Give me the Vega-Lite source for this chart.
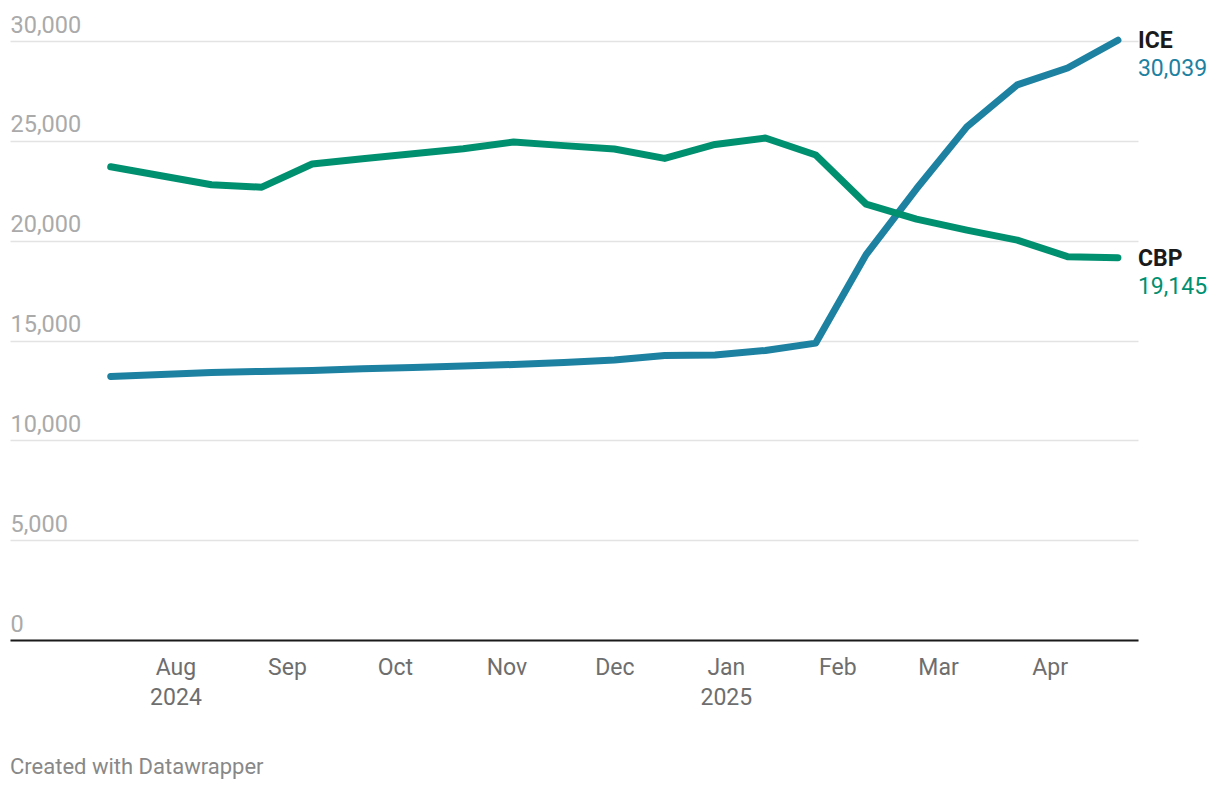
{
  "$schema": "https://vega.github.io/schema/vega-lite/v6.json",
  "autosize": "none",
  "width": 1128,
  "height": 599,
  "padding": {"left": 10, "top": 41, "right": 82, "bottom": 148},
  "config": {
    "font": "Roboto",
    "view": {"stroke": null}
  },
  "title": {
    "text": "Created with Datawrapper",
    "orient": "bottom",
    "anchor": "start",
    "frame": "group",
    "font": "Roboto",
    "fontSize": 22,
    "fontWeight": "normal",
    "color": "#888888",
    "offset": 48
  },
  "datasets": {
    "series": [
      {"date": "2024-07-14", "series": "ICE", "value": 13200},
      {"date": "2024-07-28", "series": "ICE", "value": 13300},
      {"date": "2024-08-11", "series": "ICE", "value": 13400},
      {"date": "2024-08-25", "series": "ICE", "value": 13450},
      {"date": "2024-09-08", "series": "ICE", "value": 13500},
      {"date": "2024-09-22", "series": "ICE", "value": 13580},
      {"date": "2024-10-06", "series": "ICE", "value": 13650},
      {"date": "2024-10-20", "series": "ICE", "value": 13720},
      {"date": "2024-11-03", "series": "ICE", "value": 13800},
      {"date": "2024-11-17", "series": "ICE", "value": 13900},
      {"date": "2024-12-01", "series": "ICE", "value": 14020},
      {"date": "2024-12-15", "series": "ICE", "value": 14250},
      {"date": "2024-12-29", "series": "ICE", "value": 14270},
      {"date": "2025-01-12", "series": "ICE", "value": 14500},
      {"date": "2025-01-26", "series": "ICE", "value": 14870},
      {"date": "2025-02-09", "series": "ICE", "value": 19300},
      {"date": "2025-02-23", "series": "ICE", "value": 22600},
      {"date": "2025-03-09", "series": "ICE", "value": 25700},
      {"date": "2025-03-23", "series": "ICE", "value": 27800},
      {"date": "2025-04-06", "series": "ICE", "value": 28650},
      {"date": "2025-04-20", "series": "ICE", "value": 30039},
      {"date": "2024-07-14", "series": "CBP", "value": 23700},
      {"date": "2024-07-28", "series": "CBP", "value": 23250},
      {"date": "2024-08-11", "series": "CBP", "value": 22800},
      {"date": "2024-08-25", "series": "CBP", "value": 22680},
      {"date": "2024-09-08", "series": "CBP", "value": 23840},
      {"date": "2024-09-22", "series": "CBP", "value": 24100},
      {"date": "2024-10-06", "series": "CBP", "value": 24350},
      {"date": "2024-10-20", "series": "CBP", "value": 24600},
      {"date": "2024-11-03", "series": "CBP", "value": 24940},
      {"date": "2024-11-17", "series": "CBP", "value": 24760},
      {"date": "2024-12-01", "series": "CBP", "value": 24590},
      {"date": "2024-12-15", "series": "CBP", "value": 24120},
      {"date": "2024-12-29", "series": "CBP", "value": 24820},
      {"date": "2025-01-12", "series": "CBP", "value": 25140},
      {"date": "2025-01-26", "series": "CBP", "value": 24290},
      {"date": "2025-02-09", "series": "CBP", "value": 21830},
      {"date": "2025-02-23", "series": "CBP", "value": 21080},
      {"date": "2025-03-09", "series": "CBP", "value": 20530},
      {"date": "2025-03-23", "series": "CBP", "value": 20030},
      {"date": "2025-04-06", "series": "CBP", "value": 19200},
      {"date": "2025-04-20", "series": "CBP", "value": 19145}
    ],
    "labels": [
      {"date": "2025-04-20", "series": "ICE", "value": 30039},
      {"date": "2025-04-20", "series": "CBP", "value": 19145}
    ]
  },
  "layer": [
    {
      "data": {"name": "series"},
      "mark": {"type": "line", "strokeWidth": 7, "strokeCap": "round", "strokeJoin": "round"},
      "encoding": {
        "x": {
          "field": "date",
          "type": "temporal",
          "scale": {
            "type": "utc",
            "domain": [
              {"year": 2024, "month": 6, "date": 16, "utc": true},
              {"year": 2025, "month": 4, "date": 25, "hours": 14, "utc": true}
            ]
          },
          "axis": {
            "title": null,
            "grid": false,
            "ticks": false,
            "domainColor": "#1a1a1a",
            "domainWidth": 2,
            "labelFont": "Roboto",
            "labelFontSize": 23,
            "labelColor": "#6e6e6e",
            "labelPadding": 16,
            "labelBaseline": "top",
            "labelLineHeight": 30,
            "labelFlush": false,
            "labelOverlap": false,
            "values": [
              {"year": 2024, "month": 8, "date": 1, "utc": true},
              {"year": 2024, "month": 9, "date": 1, "utc": true},
              {"year": 2024, "month": 10, "date": 1, "utc": true},
              {"year": 2024, "month": 11, "date": 1, "utc": true},
              {"year": 2024, "month": 12, "date": 1, "utc": true},
              {"year": 2025, "month": 1, "date": 1, "utc": true},
              {"year": 2025, "month": 2, "date": 1, "utc": true},
              {"year": 2025, "month": 3, "date": 1, "utc": true},
              {"year": 2025, "month": 4, "date": 1, "utc": true}
            ],
            "labelExpr": "utcFormat(datum.value, '%m') == '08' ? ['Aug', '2024'] : (utcFormat(datum.value, '%m') == '01' ? ['Jan', '2025'] : utcFormat(datum.value, '%b'))"
          }
        },
        "y": {
          "field": "value",
          "type": "quantitative",
          "scale": {"domain": [0, 30000]},
          "axis": {
            "title": null,
            "values": [0, 5000, 10000, 15000, 20000, 25000, 30000],
            "format": ",d",
            "domain": false,
            "ticks": false,
            "gridColor": "#e3e3e3",
            "gridWidth": 1.5,
            "labelFont": "Roboto",
            "labelFontSize": 23.5,
            "labelColor": "#aaaaaa",
            "labelAlign": "left",
            "labelBaseline": "alphabetic",
            "labelPadding": 0,
            "labelOffset": -9,
            "labelFlush": false
          }
        },
        "color": {
          "field": "series",
          "type": "nominal",
          "scale": {"domain": ["CBP", "ICE"], "range": ["#009070", "#1d81a2"]},
          "legend": null
        }
      }
    },
    {
      "data": {"name": "labels"},
      "mark": {"type": "text", "align": "left", "baseline": "middle", "dx": 20, "dy": 1, "font": "Roboto", "fontSize": 23, "fontWeight": "bold", "color": "#1a1a1a"},
      "encoding": {
        "x": {"field": "date", "type": "temporal"},
        "y": {"field": "value", "type": "quantitative"},
        "text": {"field": "series", "type": "nominal"}
      }
    },
    {
      "data": {"name": "labels"},
      "mark": {"type": "text", "align": "left", "baseline": "middle", "dx": 20, "dy": 29, "font": "Roboto", "fontSize": 23},
      "encoding": {
        "x": {"field": "date", "type": "temporal"},
        "y": {"field": "value", "type": "quantitative"},
        "text": {"field": "value", "type": "quantitative", "format": ",d"},
        "color": {"field": "series", "type": "nominal", "legend": null}
      }
    }
  ]
}
